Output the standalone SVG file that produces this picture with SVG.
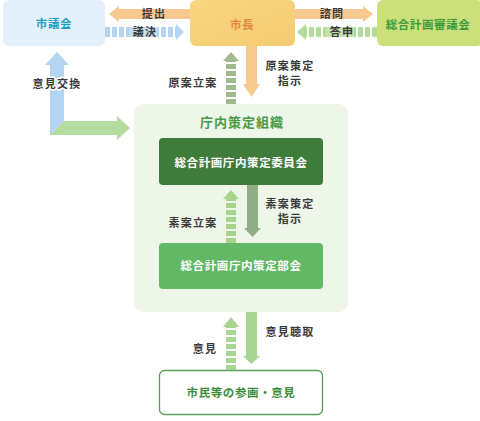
<svg xmlns="http://www.w3.org/2000/svg" width="480" height="421" viewBox="0 0 480 421">
<style>
text{font-family:"Noto Sans CJK JP","Noto Sans",sans-serif;text-anchor:middle;}
.lbl{font-size:11px;font-weight:bold;fill:#3a3a3a;letter-spacing:1.2px;}
.ttl{font-size:11.5px;font-weight:bold;letter-spacing:0.6px;}
.halo{stroke:#ffffff;stroke-width:3px;paint-order:stroke;stroke-linejoin:round;}
.dash{stroke-dasharray:5 2;fill:none;}
</style>
<defs>
<linearGradient id="gMayor" x1="0" y1="0" x2="1" y2="1">
<stop offset="0" stop-color="#f8d67f"/><stop offset="1" stop-color="#f5cb72"/>
</linearGradient>
</defs>

<g id="node-shigikai">
<rect x="3" y="0" width="102" height="46" rx="6" fill="#e3f0fb"/>
<text class="ttl" x="54" y="28" fill="#1b9fc0">市議会</text>
</g>
<g id="node-shicho">
<rect x="190" y="0" width="105" height="46" rx="6" fill="url(#gMayor)"/>
<text class="ttl" x="242" y="29" fill="#e3873a">市長</text>
</g>
<g id="node-shingikai">
<rect x="377" y="0" width="106" height="46" rx="6" fill="#cbe07b"/>
<text class="ttl" x="428" y="29" fill="#3a9a3c">総合計画審議会</text>
</g>
<g id="node-chonai">
<rect x="134" y="104" width="214" height="208" rx="9" fill="#eef5e9"/>
<text x="242" y="127" font-size="13" font-weight="bold" fill="#4a9a45" letter-spacing="1">庁内策定組織</text>
</g>
<g id="node-iinkai">
<rect x="159" y="138" width="164" height="47" rx="4" fill="#3f7c3b"/>
<text class="ttl" x="241" y="167" fill="#ffffff">総合計画庁内策定委員会</text>
</g>
<g id="node-bukai">
<rect x="159" y="243" width="164" height="46" rx="4" fill="#62b864"/>
<text class="ttl" x="241" y="270" fill="#ffffff">総合計画庁内策定部会</text>
</g>
<g id="node-shimin">
<rect x="159.5" y="370.5" width="163" height="44" rx="5" fill="#ffffff" stroke="#5c9e57" stroke-width="1.3"/>
<text class="ttl" x="241" y="397" fill="#3d8c3b">市民等の参画・意見</text>
</g>

<g id="connectors">
<g id="c-teishutsu">
<rect x="117" y="9" width="73" height="10" fill="#f8c98e"/>
<polygon points="109,14 119,6 119,22" fill="#f8c98e"/>
<text class="lbl" x="154" y="18" letter-spacing="3">提出</text>
</g>
<g id="c-giketsu">
<line x1="105" y1="32" x2="178" y2="32" stroke="#b3d5f1" stroke-width="10" class="dash"/>
<rect x="129" y="27" width="28" height="10" fill="#c4dff5"/>
<polygon points="184,32 176,24 176,40" fill="#b3d5f1"/>
<text class="lbl" x="145" y="36" letter-spacing="3">議決</text>
</g>
<g id="c-shimon">
<rect x="295" y="9" width="69" height="10" fill="#f8c98e"/>
<polygon points="373,14 363,6 363,22" fill="#f8c98e"/>
<text class="lbl" x="332" y="18" letter-spacing="3">諮問</text>
</g>
<g id="c-toshin">
<line x1="377" y1="32" x2="304" y2="32" stroke="#b2db9c" stroke-width="10" class="dash"/>
<rect x="326" y="27" width="28" height="10" fill="#c2e2ae"/>
<polygon points="297,32 306,24 306,40" fill="#b2db9c"/>
<text class="lbl" x="342" y="36" letter-spacing="3">答申</text>
</g>
<g id="c-ikenkokan">
<path d="M50,65 L64,65 L64,121 L50,135 Z" fill="#b3d5f1"/>
<path d="M50,65 L50,130 Q50,135 55,135 L50,135 Z" fill="#b3d5f1"/>
<polygon points="57,52 69,65 45,65" fill="#b3d5f1"/>
<path d="M50,135 L64,121 L117,121 L117,116 L130,128 L117,140 L117,135 Z" fill="#b5dca0"/>
<text class="lbl halo" x="57" y="88" letter-spacing="1">意見交換</text>
</g>
<g id="c-genan-ritsuan">
<line x1="231" y1="104" x2="231" y2="59" stroke="#a0ba90" stroke-width="10" class="dash"/>
<polygon points="231,52 239,61 223,61" fill="#a0ba90"/>
<text class="lbl" x="193" y="87">原案立案</text>
</g>
<g id="c-genan-shiji">
<rect x="246" y="46" width="11" height="39" fill="#f8c98e"/>
<polygon points="251.5,97 260,84 243,84" fill="#f8c98e"/>
<text class="lbl" x="290" y="70">原案策定</text>
<text class="lbl" x="290" y="85">指示</text>
</g>
<g id="c-soan-ritsuan">
<line x1="231" y1="243" x2="231" y2="198" stroke="#a6d48f" stroke-width="10" class="dash"/>
<polygon points="231,190 239,199 223,199" fill="#a6d48f"/>
<text class="lbl" x="193" y="227">素案立案</text>
</g>
<g id="c-soan-shiji">
<rect x="247" y="185" width="11" height="44" fill="#90ad85"/>
<polygon points="252.5,237 261,228 244,228" fill="#90ad85"/>
<text class="lbl" x="290" y="208">素案策定</text>
<text class="lbl" x="290" y="223">指示</text>
</g>
<g id="c-iken">
<line x1="231" y1="370" x2="231" y2="326" stroke="#a8d592" stroke-width="10" class="dash"/>
<polygon points="231,317 239,327 223,327" fill="#a8d592"/>
<text class="lbl" x="205" y="353">意見</text>
</g>
<g id="c-iken-chosyu">
<rect x="246" y="312" width="11" height="46" fill="#a8d592"/>
<polygon points="251.5,364 260,356 243,356" fill="#a8d592"/>
<text class="lbl" x="290" y="336">意見聴取</text>
</g>
</g>
</svg>
